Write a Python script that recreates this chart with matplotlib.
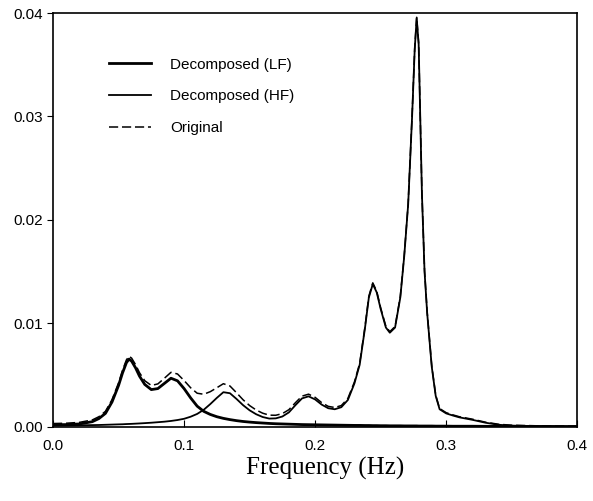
import matplotlib
matplotlib.use("Agg")
import matplotlib.pyplot as plt

# spectral density samples (Hz, power)
freq = [0.000, 0.010, 0.020, 0.030, 0.035, 0.040, 0.045, 0.050, 0.053, 0.056,
        0.058, 0.060, 0.063, 0.066, 0.070, 0.075, 0.080, 0.085, 0.090, 0.095,
        0.100, 0.105, 0.110, 0.115, 0.120, 0.125, 0.130, 0.135, 0.140, 0.145,
        0.150, 0.155, 0.160, 0.165, 0.170, 0.175, 0.180, 0.185, 0.190, 0.195,
        0.200, 0.205, 0.210, 0.215, 0.220, 0.225, 0.230, 0.234, 0.238, 0.241,
        0.244, 0.247, 0.250, 0.254, 0.257, 0.261, 0.265, 0.268, 0.271, 0.274,
        0.276, 0.2775, 0.279, 0.2815, 0.2835, 0.2855, 0.289, 0.292, 0.295, 0.300,
        0.305, 0.310, 0.320, 0.330, 0.340, 0.350, 0.370, 0.400]

lf = [0.00020, 0.00022, 0.00028, 0.00050, 0.00080, 0.00130, 0.00240, 0.00400, 0.00520, 0.00620,
      0.00655, 0.00635, 0.00570, 0.00490, 0.00410, 0.00360, 0.00370, 0.00420, 0.00470, 0.00445,
      0.00370, 0.00280, 0.00200, 0.00150, 0.00120, 0.00098, 0.00082, 0.00070, 0.00060, 0.00052,
      0.00046, 0.00041, 0.00037, 0.00033, 0.00030, 0.00028, 0.00026, 0.00024, 0.00022, 0.00021,
      0.00020, 0.00019, 0.00018, 0.00017, 0.00016, 0.00015, 0.00014, 0.00014, 0.00013, 0.00013,
      0.00012, 0.00012, 0.00011, 0.00011, 0.00010, 0.00010, 0.00010, 0.00009, 0.00009, 0.00009,
      0.00009, 0.00009, 0.00008, 0.00008, 0.00008, 0.00008, 0.00008, 0.00007, 0.00007, 0.00007,
      0.00006, 0.00006, 0.00006, 0.00005, 0.00005, 0.00004, 0.00004, 0.00003]

hf = [0.00012, 0.00013, 0.00015, 0.00017, 0.00018, 0.00020, 0.00022, 0.00024, 0.00025, 0.00027,
      0.00028, 0.00029, 0.00031, 0.00033, 0.00036, 0.00040, 0.00045, 0.00050, 0.00057, 0.00066,
      0.00078, 0.00098, 0.00125, 0.00165, 0.00220, 0.00280, 0.00335, 0.00325, 0.00270, 0.00210,
      0.00160, 0.00122, 0.00095, 0.00080, 0.00082, 0.00100, 0.00140, 0.00210, 0.00275, 0.00295,
      0.00265, 0.00215, 0.00180, 0.00170, 0.00190, 0.00260, 0.00420, 0.00600, 0.00950, 0.01250,
      0.01380, 0.01300, 0.01140, 0.00960, 0.00910, 0.00960, 0.01250, 0.01650, 0.02150, 0.03000,
      0.03650, 0.03950, 0.03700, 0.02250, 0.01500, 0.01100, 0.00580, 0.00300, 0.00170, 0.00130,
      0.00110, 0.00092, 0.00068, 0.00040, 0.00020, 0.00012, 0.00006, 0.00003]

original = [0.00032, 0.00035, 0.00043, 0.00067, 0.00098, 0.00150, 0.00262, 0.00424, 0.00545, 0.00647,
            0.00683, 0.00664, 0.00601, 0.00523, 0.00446, 0.00400, 0.00415, 0.00470, 0.00527, 0.00511,
            0.00448, 0.00378, 0.00325, 0.00315, 0.00340, 0.00378, 0.00417, 0.00395, 0.00330, 0.00262,
            0.00206, 0.00163, 0.00132, 0.00113, 0.00112, 0.00128, 0.00166, 0.00234, 0.00297, 0.00316,
            0.00285, 0.00234, 0.00198, 0.00187, 0.00206, 0.00275, 0.00434, 0.00614, 0.00963, 0.01263,
            0.01392, 0.01312, 0.01151, 0.00971, 0.00920, 0.00970, 0.01260, 0.01659, 0.02159, 0.03009,
            0.03659, 0.03959, 0.03708, 0.02258, 0.01508, 0.01108, 0.00588, 0.00307, 0.00177, 0.00137,
            0.00116, 0.00098, 0.00074, 0.00045, 0.00025, 0.00016, 0.00010, 0.00006]

xticks = [0.0, 0.1, 0.2, 0.3, 0.4]
yticks = [0.00, 0.01, 0.02, 0.03, 0.04]

plt.rcParams["font.family"] = ["Liberation Sans", "DejaVu Sans"]

fig = plt.figure(figsize=(5.93, 5.01), dpi=100)
ax = fig.add_axes([0.0894, 0.148, 0.884, 0.826])

ax.plot(freq, lf, color="black", linewidth=2.0, label="Decomposed (LF)")
ax.plot(freq, hf, color="black", linewidth=1.3, label="Decomposed (HF)")
ax.plot(freq, original, color="black", linewidth=1.1, dashes=(6, 2.5), label="Original")

ax.set_xlim(0, 0.4)
ax.set_ylim(0, 0.04)
ax.set_xticks(xticks)
ax.set_xticklabels([f"{t:.1f}" for t in xticks])
ax.set_yticks(yticks)
ax.set_yticklabels([f"{t:.2f}" for t in yticks])
ax.tick_params(axis="x", direction="in", length=5, labelsize=11, pad=9)
ax.tick_params(axis="y", direction="out", length=4, labelsize=11)
for s in ax.spines.values():
    s.set_linewidth(1.2)

ax.set_xlabel("Frequency (Hz)", family=["Liberation Serif", "DejaVu Serif"], fontsize=18)
ax.xaxis.set_label_coords(0.52, -0.072, transform=ax.transAxes)
ax.xaxis.label.set_va("top")

ax.legend(loc="upper left", bbox_to_anchor=(0.08, 0.925), frameon=False,
          handlelength=2.8, handletextpad=1.2, labelspacing=1.15, fontsize=11)

fig.savefig("out.png", dpi=100)
